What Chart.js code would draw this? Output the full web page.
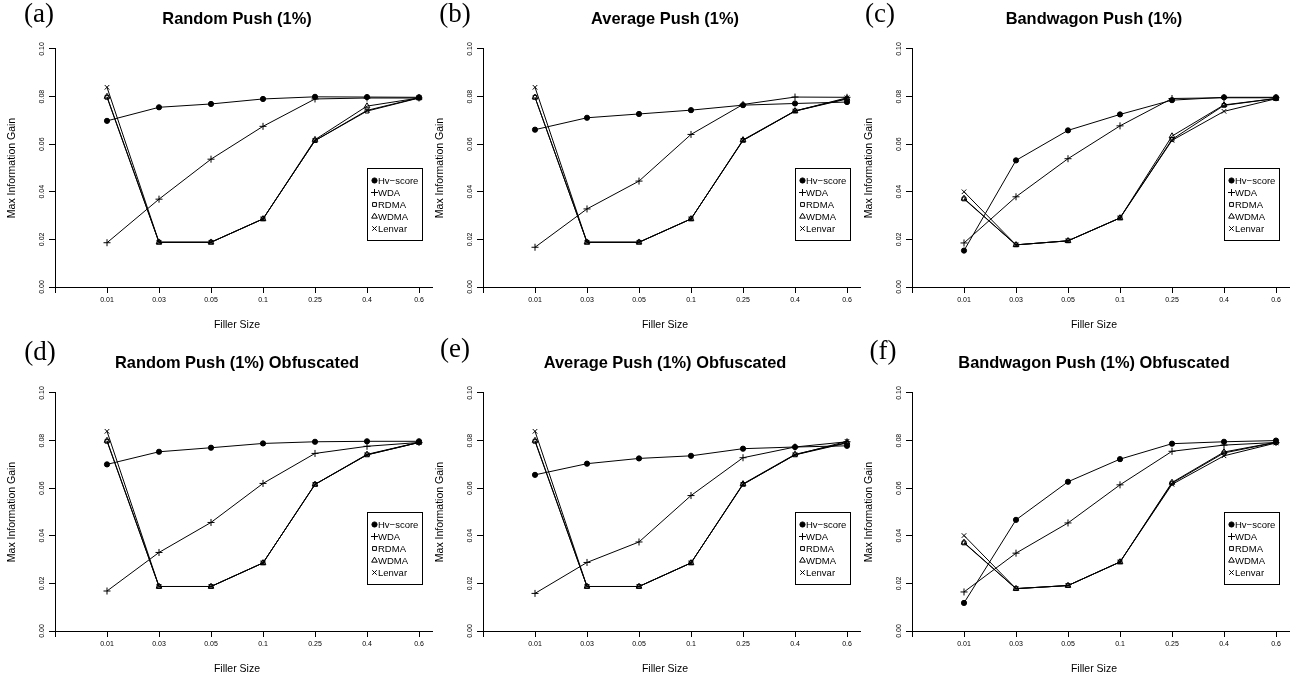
<!DOCTYPE html>
<html lang="en">
<head>
<meta charset="UTF-8">
<title>Max Information Gain vs Filler Size</title>
<script src="https://cdn.jsdelivr.net/npm/chart.js"></script>
<style>
  html, body { margin: 0; padding: 0; background: #fff; }
  body { position: relative; width: 1308px; height: 680px; overflow: hidden; }
  canvas { position: absolute; }
  .tag {
    position: absolute;
    font-family: 'Liberation Serif', 'Times New Roman', serif;
    font-size: 27px;
    line-height: 27px;
    color: #000;
    transform: translateX(-50%);
    white-space: nowrap;
  }
</style>
</head>
<body>
<canvas id="pa" width="440" height="340" style="left:0px;top:0px"></canvas>
<canvas id="pb" width="440" height="340" style="left:428px;top:0px"></canvas>
<canvas id="pc" width="440" height="340" style="left:857px;top:0px"></canvas>
<canvas id="pd" width="440" height="340" style="left:0px;top:344px"></canvas>
<canvas id="pe" width="440" height="340" style="left:428px;top:344px"></canvas>
<canvas id="pf" width="440" height="340" style="left:857px;top:344px"></canvas>

<div class="tag" style="left:39px;top:0px">(a)</div>
<div class="tag" style="left:455px;top:0px">(b)</div>
<div class="tag" style="left:880px;top:0px">(c)</div>
<div class="tag" style="left:40px;top:338px">(d)</div>
<div class="tag" style="left:455px;top:335px">(e)</div>
<div class="tag" style="left:883px;top:337px">(f)</div>

<script>
const fillerSizes = ['0.01', '0.03', '0.05', '0.1', '0.25', '0.4', '0.6'];
const seriesNames = ['Hv\u2212score', 'WDA', 'RDMA', 'WDMA', 'Lenvar'];

// (a) Random Push (1%)
const randomHv     = [0.0698, 0.0755, 0.0769, 0.0790, 0.0799, 0.0798, 0.0797];
const randomWda    = [0.0186, 0.0369, 0.0537, 0.0675, 0.0790, 0.0794, 0.0794];
const randomRdma   = [0.0797, 0.0188, 0.0188, 0.0286, 0.0615, 0.0739, 0.0794];
const randomWdma   = [0.0800, 0.0188, 0.0188, 0.0286, 0.0619, 0.0760, 0.0794];
const randomLenvar = [0.0839, 0.0188, 0.0188, 0.0286, 0.0615, 0.0742, 0.0795];

// (b) Average Push (1%)
const averageHv     = [0.0661, 0.0711, 0.0727, 0.0743, 0.0764, 0.0771, 0.0777];
const averageWda    = [0.0167, 0.0328, 0.0445, 0.0641, 0.0767, 0.0798, 0.0797];
const averageRdma   = [0.0797, 0.0188, 0.0188, 0.0286, 0.0616, 0.0739, 0.0790];
const averageWdma   = [0.0797, 0.0188, 0.0188, 0.0286, 0.0618, 0.0740, 0.0792];
const averageLenvar = [0.0839, 0.0188, 0.0188, 0.0286, 0.0616, 0.0739, 0.0795];

// (c) Bandwagon Push (1%)
const bandHv     = [0.0153, 0.0532, 0.0658, 0.0725, 0.0785, 0.0797, 0.0797];
const bandWda    = [0.0185, 0.0379, 0.0539, 0.0677, 0.0792, 0.0795, 0.0795];
const bandRdma   = [0.0370, 0.0177, 0.0194, 0.0290, 0.0620, 0.0763, 0.0792];
const bandWdma   = [0.0372, 0.0177, 0.0194, 0.0290, 0.0634, 0.0765, 0.0792];
const bandLenvar = [0.0400, 0.0177, 0.0194, 0.0290, 0.0616, 0.0738, 0.0791];

// (d) Random Push (1%) Obfuscated
const randomObfHv     = [0.0700, 0.0753, 0.0770, 0.0788, 0.0795, 0.0797, 0.0797];
const randomObfWda    = [0.0168, 0.0330, 0.0456, 0.0620, 0.0746, 0.0776, 0.0792];
const randomObfRdma   = [0.0797, 0.0187, 0.0187, 0.0286, 0.0616, 0.0740, 0.0792];
const randomObfWdma   = [0.0800, 0.0187, 0.0187, 0.0286, 0.0616, 0.0742, 0.0793];
const randomObfLenvar = [0.0839, 0.0187, 0.0187, 0.0286, 0.0616, 0.0740, 0.0792];

// (e) Average Push (1%) Obfuscated
const averageObfHv     = [0.0656, 0.0703, 0.0725, 0.0736, 0.0766, 0.0773, 0.0778];
const averageObfWda    = [0.0158, 0.0288, 0.0374, 0.0569, 0.0728, 0.0773, 0.0795];
const averageObfRdma   = [0.0797, 0.0187, 0.0187, 0.0286, 0.0616, 0.0740, 0.0790];
const averageObfWdma   = [0.0800, 0.0187, 0.0187, 0.0286, 0.0618, 0.0742, 0.0792];
const averageObfLenvar = [0.0839, 0.0187, 0.0187, 0.0286, 0.0616, 0.0740, 0.0797];

// (f) Bandwagon Push (1%) Obfuscated
const bandObfHv     = [0.0118, 0.0467, 0.0627, 0.0722, 0.0787, 0.0795, 0.0800];
const bandObfWda    = [0.0164, 0.0327, 0.0454, 0.0614, 0.0755, 0.0781, 0.0792];
const bandObfRdma   = [0.0370, 0.0178, 0.0191, 0.0290, 0.0621, 0.0748, 0.0792];
const bandObfWdma   = [0.0372, 0.0178, 0.0191, 0.0290, 0.0624, 0.0752, 0.0793];
const bandObfLenvar = [0.0401, 0.0178, 0.0191, 0.0290, 0.0616, 0.0736, 0.0790];

const yTicks = [0, 0.02, 0.04, 0.06, 0.08, 0.10];

const panels = [
  { id: 'pa', title: 'Random Push (1%)',               series: [randomHv, randomWda, randomRdma, randomWdma, randomLenvar] },
  { id: 'pb', title: 'Average Push (1%)',              series: [averageHv, averageWda, averageRdma, averageWdma, averageLenvar] },
  { id: 'pc', title: 'Bandwagon Push (1%)',            series: [bandHv, bandWda, bandRdma, bandWdma, bandLenvar] },
  { id: 'pd', title: 'Random Push (1%) Obfuscated',    series: [randomObfHv, randomObfWda, randomObfRdma, randomObfWdma, randomObfLenvar] },
  { id: 'pe', title: 'Average Push (1%) Obfuscated',   series: [averageObfHv, averageObfWda, averageObfRdma, averageObfWdma, averageObfLenvar] },
  { id: 'pf', title: 'Bandwagon Push (1%) Obfuscated', series: [bandObfHv, bandObfWda, bandObfRdma, bandObfWdma, bandObfLenvar] }
];

// marker per series, like R's pch 19, 3, 0, 2, 4
const markers = [
  { pointStyle: 'circle',   radius: 2.6, fill: '#000' },
  { pointStyle: 'cross',    radius: 3.5, fill: 'rgba(0,0,0,0)' },
  { pointStyle: 'rect',     radius: 2.7, fill: 'rgba(0,0,0,0)' },
  { pointStyle: 'triangle', radius: 3.3, fill: 'rgba(0,0,0,0)' },
  { pointStyle: 'crossRot', radius: 3.2, fill: 'rgba(0,0,0,0)' }
];

const FONT = '"Liberation Sans", Arial, Helvetica, sans-serif';

// rotated y labels, longer x axis line and the boxed legend
const extras = {
  id: 'extras',
  afterDraw(chart) {
    const { ctx, chartArea: a, scales: { y } } = chart;
    ctx.save();
    ctx.strokeStyle = '#000';
    ctx.lineWidth = 1;

    const by = Math.round(a.bottom - 0.5) + 0.5;
    ctx.beginPath();
    ctx.moveTo(a.right - 1, by);
    ctx.lineTo(a.right + 14, by);
    ctx.stroke();

    ctx.fillStyle = '#000';
    ctx.font = '7px ' + FONT;
    ctx.textAlign = 'center';
    ctx.textBaseline = 'middle';
    y.ticks.forEach((t, i) => {
      const py = y.getPixelForTick(i);
      ctx.save();
      ctx.translate(a.left - 12.5, py);
      ctx.rotate(-Math.PI / 2);
      ctx.fillText(t.value.toFixed(2), 0, 0);
      ctx.restore();
    });

    const lx = Math.round(a.right - 52) + 0.5;
    const ly = Math.round(a.top + 119) + 0.5;
    ctx.strokeRect(lx, ly, 55, 72);
    ctx.font = '9.5px ' + FONT;
    ctx.textAlign = 'left';
    chart.data.datasets.forEach((ds, i) => {
      const cy = ly + 12 + 12 * i;
      ctx.fillStyle = ds.pointBackgroundColor;
      ctx.strokeStyle = '#000';
      Chart.helpers.drawPoint(ctx, { pointStyle: ds.pointStyle, radius: ds.pointRadius, borderWidth: 1, rotation: 0 }, lx + 7, cy);
      ctx.fillStyle = '#000';
      ctx.fillText(ds.label, lx + 10.5, cy + 0.5);
    });
    ctx.restore();
  }
};

panels.forEach(p => {
  const datasets = p.series.map((vals, s) => ({
    label: seriesNames[s],
    data: vals.map((v, i) => ({ x: i, y: v })),
    borderColor: '#000',
    borderWidth: 1,
    tension: 0,
    fill: false,
    clip: false,
    pointStyle: markers[s].pointStyle,
    pointRadius: markers[s].radius,
    pointBackgroundColor: markers[s].fill,
    pointBorderColor: '#000',
    pointBorderWidth: 1
  }));

  new Chart(document.getElementById(p.id), {
    type: 'line',
    data: { datasets },
    plugins: [extras],
    options: {
      responsive: false,
      animation: false,
      events: [],
      layout: { padding: { left: 0, right: 21, top: 0, bottom: 0 } },
      plugins: {
        legend: { display: false },
        tooltip: { enabled: false },
        title: {
          display: true,
          text: p.title,
          fullSize: false,
          color: '#000',
          font: { family: FONT, size: 16.4, weight: 'bold' },
          padding: { top: 9.5, bottom: 19.8 }
        }
      },
      scales: {
        x: {
          type: 'linear',
          min: -1,
          max: 6,
          ticks: {
            stepSize: 1,
            autoSkip: false,
            maxRotation: 0,
            color: '#000',
            padding: 2.5,
            font: { family: FONT, size: 7 },
            callback: v => (v >= 0 ? fillerSizes[v] : '')
          },
          grid: { drawOnChartArea: false, drawTicks: true, tickLength: 6, color: '#000', lineWidth: 1 },
          border: { display: true, color: '#000', width: 1 },
          title: {
            display: true,
            text: 'Filler Size',
            color: '#000',
            font: { family: FONT, size: 10.5 },
            padding: { top: 0, bottom: 8.7 }
          },
          afterFit: s => { s.height = 53; }
        },
        y: {
          type: 'linear',
          min: 0,
          max: 0.1,
          afterBuildTicks: s => { s.ticks = yTicks.map(v => ({ value: v })); },
          ticks: { display: false },
          grid: { drawOnChartArea: false, drawTicks: true, tickLength: 6, color: '#000', lineWidth: 1 },
          border: { display: true, color: '#000', width: 1 },
          title: {
            display: true,
            text: 'Max Information Gain',
            color: '#000',
            font: { family: FONT, size: 10.5 },
            padding: { top: 5.7, bottom: 0 }
          },
          afterFit: s => { s.width = 55; }
        }
      }
    }
  });
});
</script>
</body>
</html>
